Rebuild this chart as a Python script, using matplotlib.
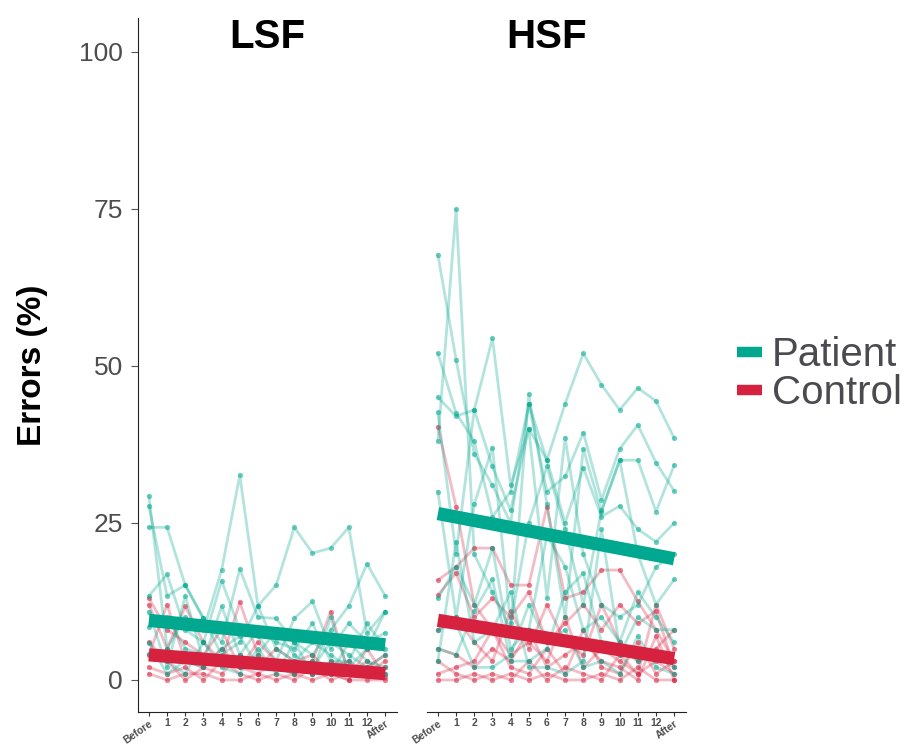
import numpy as np
import matplotlib
matplotlib.use("Agg")
import matplotlib.pyplot as plt
from matplotlib.lines import Line2D

plt.rcParams["font.family"] = ["Liberation Sans", "DejaVu Sans"]

# x categories
sessions = ["Before", "1", "2", "3", "4", "5", "6", "7", "8", "9", "10", "11", "12", "After"]

# LSF - patients (error %, one list per participant)
lsf_patient = [
    [29.3, 5, 10, 8, 17.5, 32.6, 11.8, 5, 3, 6, 4, 2, 5, 10.9],
    [27.7, 13.4, 15.1, 9.8, 4, 6, 11.8, 15.1, 24.3, 20.2, 21.0, 24.3, 7.5, 10.9],
    [24.3, 24.3, 15.1, 9.8, 6, 17.7, 10, 9.8, 6, 4, 8, 11.8, 18.5, 13.4],
    [13.4, 16.8, 8, 6, 15.8, 8, 7, 3, 9.8, 12.5, 5, 9, 6, 7.5],
    [10.9, 2, 13.4, 3, 11.7, 4, 8, 6, 5, 9, 3, 3, 9, 5],
    [8.4, 10, 5, 4, 3, 2, 4, 8, 4, 2, 6, 4, 2, 4],
    [5.9, 1, 3, 2, 5, 7, 2, 2, 1, 3, 1, 6, 3, 2],
    [4.2, 3, 1, 6, 2, 1, 5, 1, 6, 1, 10, 1, 1, 1],
]
# LSF - controls
lsf_control = [
    [12, 5, 11.7, 6, 3, 12.4, 4, 2, 1, 3, 10.9, 1, 2, 4],
    [4, 12, 3, 2, 5, 2, 1, 3, 2, 1, 2, 3, 1, 2],
    [2, 1, 2, 0, 3, 1, 0, 1, 0, 2, 0, 1, 3, 1],
    [1, 0, 1, 1, 0, 0, 1, 0, 1, 0, 1, 0, 0, 0],
    [6, 3, 0, 2, 1, 4, 2, 5, 3, 4, 1, 0, 5, 0.5],
    [13, 8, 6, 4, 8, 2, 6, 3, 2, 1, 3, 2, 1, 3],
]

# HSF - patients
hsf_patient = [
    [45, 42, 43, 54.4, 31, 40, 35, 44, 52, 47, 43, 46.5, 44.4, 38.5],
    [67.7, 51, 36, 31, 25, 44, 30, 32.4, 39.4, 28.7, 36.8, 40.6, 34.6, 30.1],
    [38, 75, 20, 14, 8, 45.5, 28, 10, 36.8, 26.8, 35, 35, 26.8, 34.2],
    [52, 42.5, 38, 26, 30, 43.9, 35, 25, 33.8, 26, 27.7, 24, 22, 25],
    [42.6, 20, 43, 34, 27, 40, 13, 38.6, 20, 12, 10, 12, 18, 20],
    [30, 10, 28, 37, 9, 25, 34, 24, 12, 27, 35, 20, 12, 16],
    [13, 18, 12, 21, 5, 8, 23, 18, 8, 10, 6, 14, 10, 6],
    [5, 4, 11, 16, 3, 3, 5, 14, 17, 6, 4, 10, 8, 8],
    [3, 22, 6, 8, 14, 2, 2, 1, 3, 24, 5, 3, 4, 2],
    [8, 9, 2, 2, 4, 12, 6, 8, 2, 3, 1, 7, 2, 1],
]
# HSF - controls
hsf_control = [
    [40.3, 27.6, 12, 8, 4, 6, 3, 10, 2, 5, 3, 1, 12, 5],
    [15.9, 18, 21, 21, 15.1, 15.1, 27.6, 13, 14, 17.5, 17.5, 12.5, 8, 3],
    [13.5, 17, 10, 13, 10, 14, 6, 9, 12, 8, 12, 9, 11, 2],
    [8, 10, 6, 3, 11, 5, 12, 6, 4, 12, 6, 3, 5, 8],
    [1, 2, 3, 8, 2, 1, 5, 1, 8, 2, 1, 6, 1, 3],
    [3, 1, 0, 1, 0, 3, 0, 2, 1, 0, 4, 1, 3, 1],
    [0, 0, 1, 0, 1, 0, 1, 0, 0, 1, 0, 2, 0, 0],
    [5, 4, 2, 5, 3, 8, 2, 4, 6, 3, 2, 0, 7, 0],
]

# group-level linear trend (value at Before, value at After)
lsf_patient_fit = [9.5, 5.6]
lsf_control_fit = [4.0, 1.0]
hsf_patient_fit = [26.5, 19.3]
hsf_control_fit = [9.5, 3.4]

panel_titles = ["LSF", "HSF"]
yticks = [0, 25, 50, 75, 100]

teal = "#00A88F"
red = "#D6213F"
grey_text = "#4D4D4D"


def draw_panel(ax, patients, controls, pfit, cfit, title, title_x):
    x = np.arange(len(sessions))
    for vals in controls:
        ax.plot(x, vals, color=red, lw=2.0, alpha=0.3, zorder=2)
        ax.plot(x, vals, "o", color=red, ms=3.8, alpha=0.55, mew=0, zorder=2)
    for vals in patients:
        ax.plot(x, vals, color=teal, lw=2.0, alpha=0.3, zorder=3)
        ax.plot(x, vals, "o", color=teal, ms=3.8, alpha=0.55, mew=0, zorder=3)
    ax.plot([x[0], x[-1]], pfit, color=teal, lw=9.5, solid_capstyle="butt", zorder=5)
    ax.plot([x[0], x[-1]], cfit, color=red, lw=9.5, solid_capstyle="butt", zorder=5)

    ax.set_xlim(-0.6, 13.65)
    ax.set_ylim(-5.1, 105.4)
    ax.set_xticks(x)
    ax.set_xticklabels(sessions, fontsize=7.5, fontweight="bold", color=grey_text)
    for lab in ax.get_xticklabels():
        if lab.get_text() in ("Before", "After"):
            lab.set_rotation(35)
            lab.set_ha("right")
            lab.set_rotation_mode("anchor")
    ax.tick_params(axis="x", length=3, color="#333333", pad=1.5)
    ax.text(title_x, 1.0, title, transform=ax.transAxes, ha="center", va="top",
            fontsize=29, fontweight="bold")
    for side in ["top", "right"]:
        ax.spines[side].set_visible(False)
    ax.spines["bottom"].set_color("#222222")
    ax.spines["left"].set_color("#222222")


fig = plt.figure(figsize=(9.06, 7.45), dpi=100)
ax1 = fig.add_axes([138 / 906, 33 / 745, 259 / 906, 694 / 745])
ax2 = fig.add_axes([427 / 906, 33 / 745, 259 / 906, 694 / 745])

draw_panel(ax1, lsf_patient, lsf_control, lsf_patient_fit, lsf_control_fit,
           panel_titles[0], 0.498)
draw_panel(ax2, hsf_patient, hsf_control, hsf_patient_fit, hsf_control_fit,
           panel_titles[1], 0.463)

ax1.set_yticks(yticks)
ax1.set_yticklabels([str(t) for t in yticks], fontsize=19, color=grey_text)
ax1.tick_params(axis="y", length=5, color="#555555", pad=6)
ax1.set_ylabel("Errors (%)", fontsize=24, fontweight="bold", labelpad=22)

ax2.spines["left"].set_visible(False)
ax2.set_yticks([])

handles = [Line2D([0], [0], color=teal, lw=7.5, solid_capstyle="butt"),
           Line2D([0], [0], color=red, lw=7.5, solid_capstyle="butt")]
fig.legend(handles, ["Patient", "Control"], loc="center left",
           bbox_to_anchor=(737 / 906, 0.498), frameon=False, fontsize=29,
           borderpad=0, borderaxespad=0, handlelength=0.62,
           handletextpad=0.25, labelspacing=0.0, labelcolor="#4A4A50")

fig.savefig("out.png", dpi=100)
